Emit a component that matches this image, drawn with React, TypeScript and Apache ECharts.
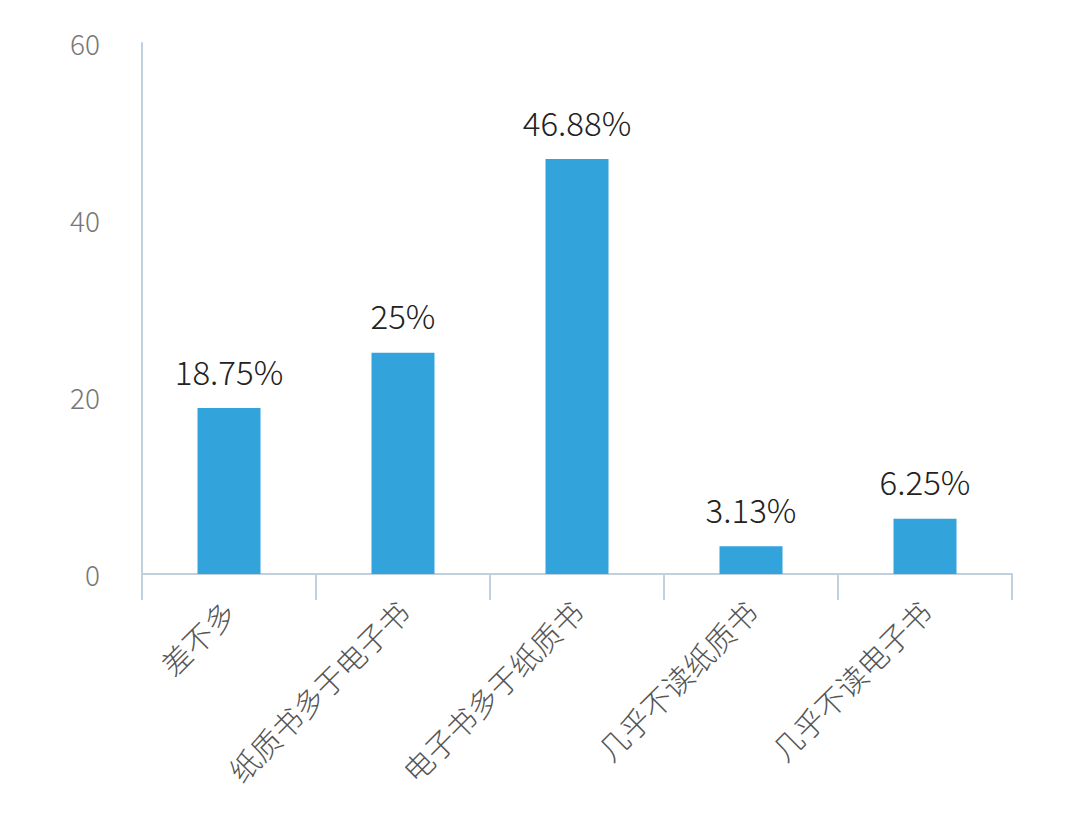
import React, { useEffect, useRef } from "react";
import * as echarts from "echarts";

const categories = ["差不多", "纸质书多于电子书", "电子书多于纸质书", "几乎不读纸质书", "几乎不读电子书"];
const values = [18.75, 25, 46.88, 3.13, 6.25];
const yTicks = { min: 0, max: 60, interval: 20 };

export default function App() {
  const ref = useRef<HTMLDivElement>(null);
  useEffect(() => {
    if (!ref.current) return;
    const chart = echarts.init(ref.current, null, { renderer: "svg" });
    const axisColor = "#c0d0df";
    chart.setOption({
      animation: false,
      grid: { left: 134, right: 60, top: 35, bottom: 247, containLabel: false },
      xAxis: {
        type: "category",
        data: categories,
        axisLine: { lineStyle: { color: axisColor, width: 2 } },
        axisTick: { show: true, length: 26, lineStyle: { color: axisColor, width: 2 } },
        axisLabel: {
          rotate: 45,
          interval: 0,
          color: "#555",
          fontSize: 30,
          margin: 32,
          fontFamily: "Noto Sans CJK SC",
          fontWeight: 300,
        },
      },
      yAxis: {
        type: "value",
        min: yTicks.min,
        max: yTicks.max,
        interval: yTicks.interval,
        axisLine: { show: true, lineStyle: { color: axisColor, width: 2 } },
        axisTick: { show: false },
        splitLine: { show: false },
        axisLabel: {
          color: "#777",
          fontSize: 28,
          margin: 42,
          fontFamily: "Noto Sans CJK SC",
          fontWeight: 300,
        },
      },
      series: [
        {
          type: "bar",
          data: values,
          barWidth: 63,
          itemStyle: { color: "#33a3dc" },
          label: {
            show: true,
            position: "top",
            distance: 21,
            formatter: "{c}%",
            color: "#222",
            fontSize: 33,
            fontFamily: "Noto Sans CJK SC",
            fontWeight: 300,
          },
        },
      ],
    });
    return () => chart.dispose();
  }, []);
  return <div ref={ref} style={{ width: 1064, height: 813 }} />;
}
